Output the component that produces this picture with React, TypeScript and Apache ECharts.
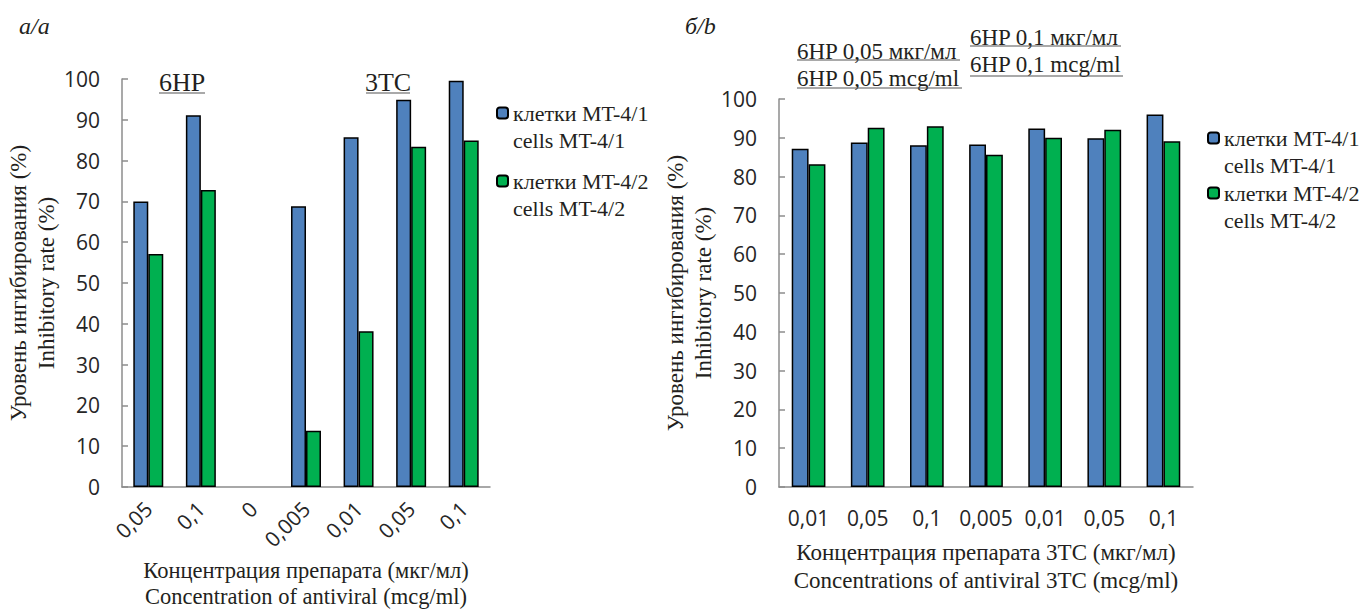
import React, { useEffect, useRef } from "react";
import * as echarts from "echarts";

const leftCategories = ["0,05", "0,1", "0", "0,005", "0,01", "0,05", "0,1"];
const leftCells1 = [70.0, 91.1, null, 68.8, 85.7, 94.9, 99.6];
const leftCells2 = [57.1, 72.8, null, 13.8, 38.2, 83.4, 84.9];

const rightCategories = ["0,01", "0,05", "0,1", "0,005", "0,01", "0,05", "0,1"];
const rightCells1 = [87.2, 88.8, 88.1, 88.3, 92.4, 89.9, 96.0];
const rightCells2 = [83.2, 92.6, 93.0, 85.6, 90.0, 92.1, 89.1];

const seriesNames = ["клетки MT-4/1\ncells MT-4/1", "клетки MT-4/2\ncells MT-4/2"];
const yTitle = "Уровень ингибирования (%)\nInhibitory rate (%)";
const leftXTitle = "Концентрация препарата (мкг/мл)\nConcentration of antiviral (mcg/ml)";
const rightXTitle = "Концентрация препарата 3TC (мкг/мл)\nConcentrations of antiviral 3TC (mcg/ml)";
const leftGroupLabels = ["6HP", "3TC"];
const rightGroupLabels = [
  ["6HP 0,05 мкг/мл", "6HP 0,05 mcg/ml"],
  ["6HP 0,1 мкг/мл", "6HP 0,1 mcg/ml"],
];

const BLUE = "#4F81BD";
const GREEN = "#00B050";
const SERIF = "'Liberation Serif', 'Times New Roman', serif";
const SANS = "'Open Sans', 'Noto Sans', sans-serif";
const TXT = "#231f20";
const TICK = "#262626";
const AXIS = "#8c8c8c";

export default function App() {
  const ref = useRef<HTMLDivElement>(null);
  useEffect(() => {
    document.body.style.margin = "0";
    const chart = echarts.init(ref.current!, null, { renderer: "svg" });

    const yAxisBase = (gridIndex: number, gap: number, margin: number) => ({
      type: "value",
      gridIndex,
      min: 0,
      max: 100,
      interval: 10,
      axisLine: { show: true, lineStyle: { color: AXIS, width: 1.5 } },
      axisTick: { show: true, inside: true, length: 6, lineStyle: { color: AXIS, width: 1.5 } },
      splitLine: { show: false },
      axisLabel: { color: TICK, fontFamily: SANS, fontSize: 21, margin },
      name: yTitle,
      nameLocation: "middle",
      nameRotate: 90,
      nameGap: gap,
      nameTextStyle: { fontFamily: SERIF, fontSize: 23, color: TXT, lineHeight: 28 },
    });

    const legendBase = (name: string, left: number, iconCenter: number) => ({
      data: [name],
      left,
      top: iconCenter - 40.5,
      padding: 0,
      itemWidth: 11,
      itemHeight: 11,
      formatter: (n: string) => " \n" + n,
      textStyle: { fontFamily: SERIF, fontSize: 22, color: TXT, lineHeight: 27 },
    });

    const barStyle = (color: string) => ({ color, borderColor: "#000", borderWidth: 1.5 });

    const bar = (name: string, idx: number, data: (number | null)[], color: string) => ({
      type: "bar",
      name,
      xAxisIndex: idx,
      yAxisIndex: idx,
      data,
      barWidth: "28.5%",
      barGap: "0%",
      itemStyle: barStyle(color),
    });

    const headerText = (text: string, x: number, y: number, size: number, align = "left") => ({
      type: "text",
      x,
      y,
      style: {
        text,
        fontFamily: SERIF,
        fontSize: size,
        fill: TXT,
        align,
        verticalAlign: "middle",
      },
    });
    const underline = (x1: number, x2: number, y: number) => ({
      type: "line",
      shape: { x1, y1: y, x2, y2: y },
      style: { stroke: "#555", lineWidth: 1.2 },
    });

    const option: any = {
      animation: false,
      backgroundColor: "#fff",
      grid: [
        { left: 122, top: 79, width: 368, height: 408, outerBoundsMode: "none", containLabel: false },
        { left: 779, top: 99, width: 414, height: 388, outerBoundsMode: "none", containLabel: false },
      ],
      legend: [
        legendBase(seriesNames[0], 496, 113),
        legendBase(seriesNames[1], 496, 181),
        legendBase(seriesNames[0], 1207, 138),
        legendBase(seriesNames[1], 1207, 193),
      ],
      xAxis: [
        {
          type: "category",
          gridIndex: 0,
          data: leftCategories,
          axisLine: { show: true, lineStyle: { color: AXIS, width: 1.5 } },
          axisTick: { show: false },
          axisLabel: {
            rotate: 45,
            interval: 0,
            color: TICK,
            fontFamily: SANS,
            fontSize: 21,
            margin: 18,
          },
          name: leftXTitle,
          nameLocation: "middle",
          nameGap: 68,
          nameTextStyle: { fontFamily: SERIF, fontSize: 22.5, color: TXT, lineHeight: 26 },
        },
        {
          type: "category",
          gridIndex: 1,
          data: rightCategories,
          axisLine: { show: true, lineStyle: { color: AXIS, width: 1.5 } },
          axisTick: { show: false },
          axisLabel: {
            interval: 0,
            color: TICK,
            fontFamily: SANS,
            fontSize: 21,
            margin: 20,
          },
          name: rightXTitle,
          nameLocation: "middle",
          nameGap: 51,
          nameTextStyle: { fontFamily: SERIF, fontSize: 23, color: TXT, lineHeight: 28 },
        },
      ],
      yAxis: [yAxisBase(0, 58, 22), yAxisBase(1, 52, 22)],
      series: [
        bar(seriesNames[0], 0, leftCells1, BLUE),
        bar(seriesNames[1], 0, leftCells2, GREEN),
        bar(seriesNames[0], 1, rightCells1, BLUE),
        bar(seriesNames[1], 1, rightCells2, GREEN),
      ],
      graphic: [
        {
          type: "text",
          x: 19,
          y: 26,
          style: { text: "a/a", fontFamily: SERIF, fontStyle: "italic", fontSize: 24, fill: TXT, verticalAlign: "middle" },
        },
        {
          type: "text",
          x: 685,
          y: 26,
          style: { text: "б/b", fontFamily: SERIF, fontStyle: "italic", fontSize: 24, fill: TXT, verticalAlign: "middle" },
        },
        headerText(leftGroupLabels[0], 182, 82, 26, "center"),
        underline(159, 205, 93),
        headerText(leftGroupLabels[1], 388, 82, 26, "center"),
        underline(366, 410, 93),
        headerText(rightGroupLabels[0][0], 797, 51, 23),
        underline(797, 960, 60),
        headerText(rightGroupLabels[0][1], 797, 78, 23),
        underline(797, 962, 88),
        headerText(rightGroupLabels[1][0], 970, 37, 23),
        underline(970, 1121, 46),
        headerText(rightGroupLabels[1][1], 970, 64, 23),
        underline(970, 1123, 76),
      ],
    };

    chart.setOption(option);
    return () => chart.dispose();
  }, []);

  return <div ref={ref} style={{ width: 1365, height: 610 }} />;
}
